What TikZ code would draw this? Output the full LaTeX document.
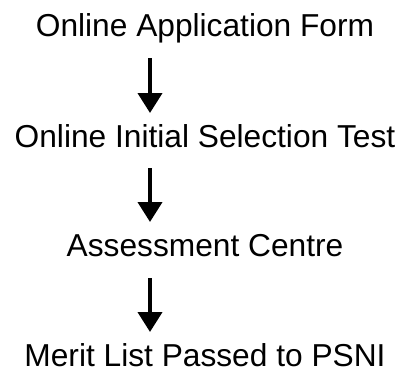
\documentclass[tikz,border=0pt]{standalone}
\usepackage{fontspec}
\setmainfont{Liberation Sans}
\usetikzlibrary{arrows.meta,calc}
\begin{document}
\begin{tikzpicture}[x=1pt,y=1pt,
  lbl/.style={anchor=base,inner sep=0pt,font=\fontsize{31.7}{38}\selectfont},
  flow/.style={line width=4pt,-{Triangle[width=24pt,length=20pt]}}]
\useasboundingbox (0,0) rectangle (402,-368);
\node[lbl] (n1) at (205,-36) {Online Application Form};
\node[lbl] (n2) at (205,-147) {Online Initial Selection Test};
\node[lbl] (n3) at (205,-256) {Assessment Centre};
\node[lbl] (n4) at (205,-366) {Merit List Passed to PSNI};
\draw[flow] ($(n1.base)+(-55,-22)$) -- ($(n2.base)+(-55,34)$);
\draw[flow] ($(n2.base)+(-55,-21)$) -- ($(n3.base)+(-55,34)$);
\draw[flow] ($(n3.base)+(-55,-22)$) -- ($(n4.base)+(-55,34)$);
\end{tikzpicture}
\end{document}
